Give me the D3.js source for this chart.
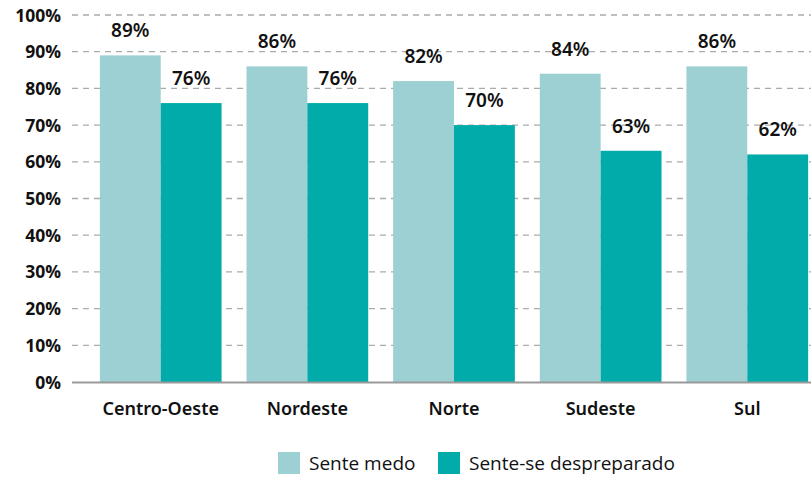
<!DOCTYPE html>
<html>
<head>
<meta charset="utf-8">
<title>Regiões</title>
<script src="https://cdn.jsdelivr.net/npm/d3@7"></script>
<style>
body { margin: 0; background: #fff; }
svg text { font-family: "Open Sans", "Noto Sans", sans-serif; fill: #111; }
svg text.med { font-family: "Noto Sans", "Open Sans", sans-serif; }
</style>
</head>
<body>
<div id="chart"></div>
<script>
let REGIONS = ["Centro-Oeste", "Nordeste", "Norte", "Sudeste", "Sul"];
let SERIES = ["Sente medo", "Sente-se despreparado"];
let MEDO = [89, 86, 82, 84, 86];
let DESPREP = [76, 76, 70, 63, 62];
let TICKS = [0, 10, 20, 30, 40, 50, 60, 70, 80, 90, 100];
let COLORS = ["#9dd0d3", "#00aba9"];

const W = 811, H = 479;
const plotLeft = 72, plotRight = 811, plotTop = 15, plotBottom = 382;

const svg = d3.select("#chart").append("svg")
	.attr("width", W).attr("height", H);

const x = d3.scaleBand().domain(REGIONS)
	.range([plotLeft, 836])
	.paddingInner(0.17).paddingOuter(0.19);
const xs = d3.scaleBand().domain(SERIES).range([0, x.bandwidth()]);
const y = d3.scaleLinear().domain([0, 100]).range([plotBottom, plotTop]);

// grid
svg.append("g").selectAll("line")
	.data(TICKS.filter(d => d > 0))
	.join("line")
	.attr("x1", plotLeft).attr("x2", plotRight)
	.attr("y1", d => y(d)).attr("y2", d => y(d))
	.attr("stroke", "#ababab").attr("stroke-width", 1.3)
	.attr("stroke-dasharray", "6,5");

// y labels
svg.append("g").selectAll("text")
	.data(TICKS)
	.join("text")
	.attr("x", 61).attr("y", d => y(d) + 6.5)
	.attr("text-anchor", "end")
	.attr("font-size", 17.5).attr("font-weight", "bold")
	.text(d => d + "%");

// bars
const rows = REGIONS.map((r, i) => ({region: r, vals: [MEDO[i], DESPREP[i]]}));
const grp = svg.append("g").selectAll("g")
	.data(rows).join("g")
	.attr("transform", d => "translate(" + x(d.region) + ",0)");

grp.selectAll("rect")
	.data(d => d.vals.map((v, j) => ({s: SERIES[j], v: v, j: j})))
	.join("rect")
	.attr("x", d => xs(d.s))
	.attr("width", xs.bandwidth())
	.attr("y", d => y(d.v))
	.attr("height", d => plotBottom - y(d.v))
	.attr("fill", d => COLORS[d.j]);

grp.selectAll("text.val")
	.data(d => d.vals.map((v, j) => ({s: SERIES[j], v: v, j: j})))
	.join("text")
	.attr("class", "val med")
	.attr("x", d => xs(d.s) + xs.bandwidth() / 2)
	.attr("y", d => y(d.v) - 18)
	.attr("text-anchor", "middle")
	.attr("font-size", 19).attr("font-weight", 600)
	.text(d => d.v + "%");

// baseline
svg.append("line")
	.attr("x1", plotLeft).attr("x2", plotRight)
	.attr("y1", plotBottom + 0.5).attr("y2", plotBottom + 0.5)
	.attr("stroke", "#999").attr("stroke-width", 2);

// x labels
svg.append("g").selectAll("text")
	.data(REGIONS).join("text")
	.attr("class", "med")
	.attr("x", d => x(d) + x.bandwidth() / 2)
	.attr("y", 415)
	.attr("text-anchor", "middle")
	.attr("font-size", 18).attr("font-weight", 600)
	.text(d => d);

// legend
const legX = [278, 438];
const leg = svg.append("g").selectAll("g")
	.data(SERIES).join("g")
	.attr("transform", (d, i) => "translate(" + legX[i] + ",452)");
leg.append("rect").attr("width", 22).attr("height", 22)
	.attr("fill", (d, i) => COLORS[i]);
leg.append("text").attr("x", 31).attr("y", 18)
	.attr("font-size", 19)
	.text(d => d);
</script>
</body>
</html>
